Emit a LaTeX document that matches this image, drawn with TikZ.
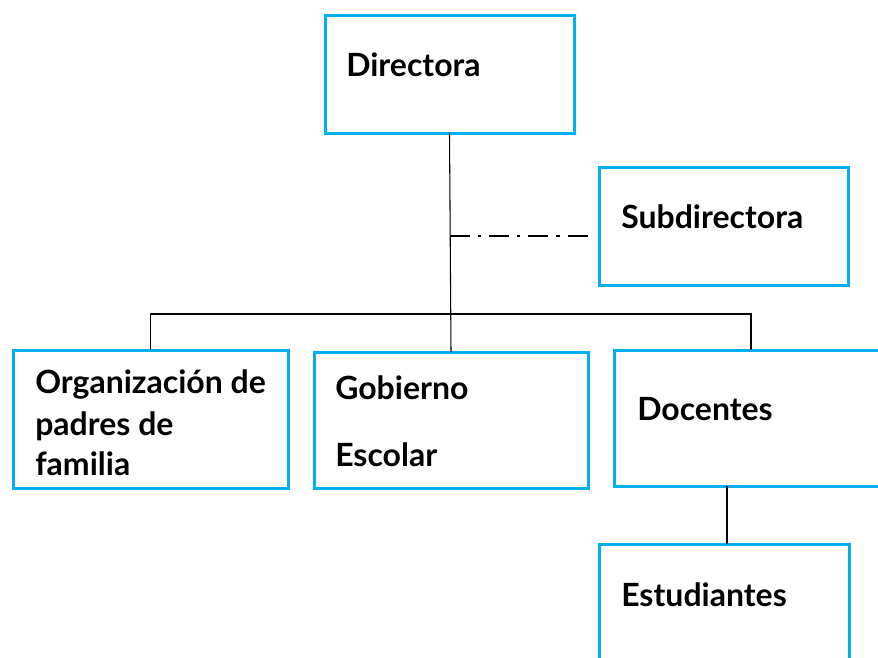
\documentclass[tikz,border=0pt]{standalone}
\usepackage{fontspec}
\setmainfont{Lato}
\usetikzlibrary{calc}
\definecolor{boxblue}{HTML}{00B0F0}
\tikzset{
  orgbox/.style={draw=boxblue, line width=2.25pt, rectangle, inner sep=0pt, outer sep=0pt, fill=white},
  lbl/.style={anchor=base west, inner sep=0pt, font=\fontsize{24}{28}\selectfont\bfseries},
  conn/.style={draw=black, line width=0.8pt},
  dashdot/.style={draw=black, line width=1.5pt, dash pattern=on 15pt off 6pt on 2.5pt off 6pt}
}
\begin{document}
\begin{tikzpicture}[x=0.75pt,y=-0.75pt]
\useasboundingbox (0,0) rectangle (878,657);
% boxes
\node[orgbox, minimum width=249*0.75pt, minimum height=118*0.75pt] (dir) at (449.5,74) {};
\node[orgbox, minimum width=249*0.75pt, minimum height=118*0.75pt] (sub) at (723.5,226) {};
\node[orgbox, minimum width=275*0.75pt, minimum height=138*0.75pt] (org) at (150.5,419) {};
\node[orgbox, minimum width=274*0.75pt, minimum height=136*0.75pt] (gob) at (451,420) {};
\node[orgbox, minimum width=274*0.75pt, minimum height=136*0.75pt] (doc) at (751,418) {};
\node[orgbox, minimum width=250*0.75pt, minimum height=118*0.75pt] (est) at (724,603) {};
% labels
\node[lbl] (tdir) at (346,76) {Directora};
\node[lbl] (tsub) at (621,228) {Subdirectora};
\node[lbl] (torga) at (35,393) {Organización de};
\node[lbl] (torgb) at (35,435) {padres de};
\node[lbl] (torgc) at (35,475) {familia};
\node[lbl] (tgoba) at (335,399) {Gobierno};
\node[lbl] (tgobb) at (335,466) {Escolar};
\node[lbl] (tdoc) at (637,420) {Docentes};
\node[lbl] (test) at (621,606) {Estudiantes};
% connectors
\coordinate (bus) at (dir.south |- 0,314);
\coordinate (dd) at (dir.south |- 0,236);
\coordinate (ddend) at ($(sub.west |- 0,236)+(-6,0)$);
\coordinate (estc) at ($(est.north)+(3,0)$);
\draw[conn] (dir.south) -- (gob.north);
\draw[conn] (org.north) |- (bus) -| (doc.north);
\draw[dashdot] (dd) -- (ddend);
\draw[conn] (estc) -- (estc |- doc.south);
\end{tikzpicture}
\end{document}
